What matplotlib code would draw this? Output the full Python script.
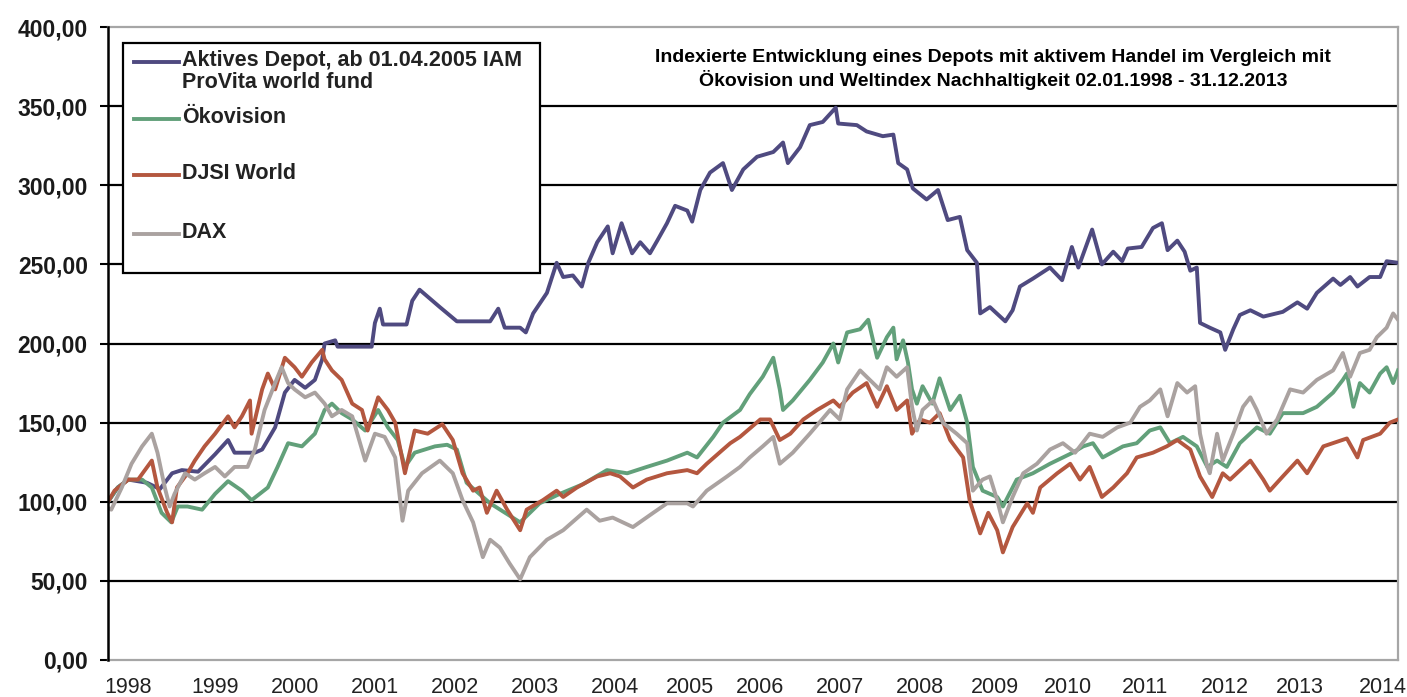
import matplotlib
matplotlib.use("Agg")
import matplotlib.pyplot as plt
from matplotlib.patches import Rectangle
from matplotlib.lines import Line2D

# ---------------- data (decimal years, index values) ----------------
depot_dates = [
    1998.10, 1998.22, 1998.35, 1998.58, 1998.74, 1998.89, 1999.01, 1999.21, 1999.42, 1999.58,
    1999.66, 1999.91, 2000.00, 2000.16, 2000.28, 2000.40, 2000.53, 2000.65, 2000.74, 2000.77,
    2000.90, 2000.93, 2001.35, 2001.39, 2001.45, 2001.49, 2001.78, 2001.85, 2001.94, 2002.19,
    2002.40, 2002.81, 2002.91, 2002.99, 2003.18, 2003.25, 2003.34, 2003.51, 2003.63, 2003.71,
    2003.83, 2003.94, 2004.02, 2004.13, 2004.26, 2004.32, 2004.43, 2004.56, 2004.66, 2004.78,
    2004.87, 2004.99, 2005.09, 2005.24, 2005.30, 2005.40, 2005.52, 2005.68, 2005.79, 2005.93,
    2006.10, 2006.30, 2006.42, 2006.48, 2006.63, 2006.75, 2006.91, 2007.07, 2007.10, 2007.33,
    2007.45, 2007.65, 2007.78, 2007.84, 2007.95, 2008.02, 2008.19, 2008.33, 2008.45, 2008.60,
    2008.69, 2008.81, 2008.85, 2008.97, 2009.16, 2009.25, 2009.34, 2009.50, 2009.71, 2009.86,
    2009.98, 2010.06, 2010.23, 2010.35, 2010.49, 2010.60, 2010.67, 2010.84, 2010.98, 2011.09,
    2011.16, 2011.28, 2011.37, 2011.44, 2011.52, 2011.56, 2011.68, 2011.81, 2011.87, 2011.97,
    2012.05, 2012.18, 2012.34, 2012.58, 2012.76, 2012.88, 2013.00, 2013.20, 2013.29, 2013.41,
    2013.50, 2013.65, 2013.78, 2013.86, 2014.00]
depot_values = [
    100, 109, 114, 112, 108, 118, 120, 119, 130, 139,
    131, 131, 133, 147, 169, 177, 172, 177, 190, 200,
    202, 198, 198, 213, 222, 212, 212, 227, 234, 223,
    214, 214, 222, 210, 210, 207, 219, 232, 251, 242,
    243, 236, 251, 264, 274, 257, 276, 257, 264, 257,
    265, 276, 287, 284, 277, 297, 308, 314, 297, 310,
    318, 321, 327, 314, 324, 338, 340, 349, 339, 338,
    334, 331, 332, 314, 310, 298, 291, 297, 278, 280,
    259, 251, 219, 223, 214, 221, 236, 241, 248, 240,
    261, 248, 272, 250, 258, 252, 260, 261, 273, 276,
    259, 265, 258, 246, 248, 213, 210, 207, 196, 209,
    218, 221, 217, 220, 226, 222, 232, 241, 237, 242,
    236, 242, 242, 252, 251]

oeko_dates = [
    1998.10, 1998.22, 1998.35, 1998.52, 1998.64, 1998.76, 1998.88, 1998.96, 1999.08, 1999.26,
    1999.42, 1999.58, 1999.75, 1999.87, 2000.07, 2000.19, 2000.32, 2000.49, 2000.65, 2000.77,
    2000.86, 2000.98, 2001.11, 2001.27, 2001.43, 2001.55, 2001.67, 2001.76, 2001.88, 2002.13,
    2002.28, 2002.40, 2002.52, 2002.81, 2003.18, 2003.42, 2003.67, 2003.95, 2004.25, 2004.50,
    2004.74, 2004.99, 2005.24, 2005.36, 2005.56, 2005.68, 2005.89, 2006.01, 2006.17, 2006.30,
    2006.38, 2006.42, 2006.54, 2006.75, 2006.91, 2007.04, 2007.10, 2007.21, 2007.37, 2007.47,
    2007.58, 2007.70, 2007.78, 2007.82, 2007.90, 2007.96, 2008.01, 2008.07, 2008.14, 2008.26,
    2008.35, 2008.48, 2008.60, 2008.69, 2008.76, 2008.88, 2009.06, 2009.13, 2009.30, 2009.50,
    2009.71, 2009.87, 2009.99, 2010.12, 2010.24, 2010.36, 2010.61, 2010.78, 2010.94, 2011.07,
    2011.19, 2011.35, 2011.52, 2011.65, 2011.77, 2011.89, 2012.05, 2012.26, 2012.42, 2012.58,
    2012.83, 2013.00, 2013.20, 2013.32, 2013.37, 2013.45, 2013.53, 2013.65, 2013.78, 2013.86,
    2013.94, 2014.00]
oeko_values = [
    100, 109, 114, 114, 109, 93, 87, 97, 97, 95,
    105, 113, 107, 101, 109, 122, 137, 135, 143, 158,
    162, 156, 152, 145, 158, 147, 139, 122, 131, 135,
    136, 133, 112, 99, 87, 99, 105, 111, 120, 118,
    122, 126, 131, 128, 141, 150, 158, 168, 179, 191,
    171, 158, 164, 177, 188, 200, 188, 207, 209, 215,
    191, 204, 210, 190, 202, 188, 171, 162, 173, 162,
    178, 158, 167, 150, 122, 107, 103, 97, 114, 118,
    124, 128, 131, 135, 137, 128, 135, 137, 145, 147,
    137, 141, 135, 122, 126, 122, 137, 147, 143, 156,
    156, 160, 169, 177, 181, 160, 175, 169, 181, 185,
    175, 183]

djsi_dates = [
    1998.10, 1998.18, 1998.35, 1998.47, 1998.64, 1998.71, 1998.83, 1998.89, 1998.95, 1999.08,
    1999.17, 1999.29, 1999.42, 1999.58, 1999.66, 1999.75, 1999.85, 1999.87, 2000.00, 2000.07,
    2000.16, 2000.28, 2000.40, 2000.49, 2000.61, 2000.74, 2000.77, 2000.86, 2000.98, 2001.11,
    2001.23, 2001.30, 2001.43, 2001.55, 2001.64, 2001.76, 2001.88, 2002.04, 2002.22, 2002.35,
    2002.47, 2002.60, 2002.68, 2002.77, 2002.89, 2003.02, 2003.18, 2003.26, 2003.46, 2003.63,
    2003.71, 2003.88, 2004.13, 2004.29, 2004.41, 2004.57, 2004.74, 2004.99, 2005.24, 2005.36,
    2005.48, 2005.68, 2005.77, 2005.89, 2006.14, 2006.26, 2006.38, 2006.51, 2006.67, 2006.84,
    2007.04, 2007.12, 2007.28, 2007.45, 2007.58, 2007.70, 2007.82, 2007.95, 2008.01, 2008.11,
    2008.23, 2008.35, 2008.48, 2008.64, 2008.72, 2008.85, 2008.95, 2009.06, 2009.13, 2009.25,
    2009.43, 2009.50, 2009.59, 2009.80, 2009.96, 2010.08, 2010.20, 2010.35, 2010.49, 2010.66,
    2010.78, 2010.98, 2011.15, 2011.28, 2011.44, 2011.56, 2011.71, 2011.84, 2011.93, 2012.18,
    2012.34, 2012.42, 2012.58, 2012.76, 2012.88, 2013.08, 2013.37, 2013.50, 2013.57, 2013.78,
    2013.90, 2014.00]
djsi_values = [
    100, 107, 114, 114, 126, 109, 93, 87, 109, 118,
    126, 135, 143, 154, 147, 154, 164, 143, 171, 181,
    171, 191, 185, 179, 188, 196, 190, 183, 177, 162,
    158, 145, 166, 158, 150, 118, 145, 143, 149, 139,
    118, 107, 109, 93, 107, 95, 82, 95, 101, 107,
    103, 109, 116, 118, 116, 109, 114, 118, 120, 118,
    124, 133, 137, 141, 152, 152, 139, 143, 152, 158,
    164, 160, 169, 175, 160, 173, 158, 164, 143, 152,
    150, 156, 139, 128, 101, 80, 93, 82, 68, 84,
    99, 93, 109, 118, 124, 114, 122, 103, 109, 118,
    128, 131, 135, 139, 133, 116, 103, 118, 114, 126,
    114, 107, 116, 126, 118, 135, 140, 128, 139, 143,
    150, 152]

dax_dates = [
    1998.10, 1998.14, 1998.27, 1998.39, 1998.52, 1998.64, 1998.71, 1998.80, 1998.86, 1998.92,
    1999.05, 1999.17, 1999.29, 1999.42, 1999.54, 1999.66, 1999.82, 1999.91, 2000.03, 2000.16,
    2000.24, 2000.32, 2000.40, 2000.53, 2000.65, 2000.77, 2000.86, 2000.98, 2001.11, 2001.27,
    2001.39, 2001.51, 2001.64, 2001.73, 2001.80, 2001.97, 2002.19, 2002.35, 2002.47, 2002.60,
    2002.72, 2002.81, 2002.93, 2003.05, 2003.18, 2003.30, 2003.51, 2003.71, 2004.00, 2004.16,
    2004.32, 2004.57, 2004.82, 2004.99, 2005.24, 2005.31, 2005.48, 2005.73, 2005.89, 2006.01,
    2006.17, 2006.30, 2006.38, 2006.54, 2006.75, 2007.00, 2007.12, 2007.21, 2007.37, 2007.49,
    2007.61, 2007.70, 2007.82, 2007.95, 2008.01, 2008.07, 2008.14, 2008.27, 2008.39, 2008.56,
    2008.69, 2008.76, 2008.88, 2008.97, 2009.06, 2009.13, 2009.25, 2009.38, 2009.55, 2009.71,
    2009.87, 2010.02, 2010.20, 2010.36, 2010.54, 2010.70, 2010.82, 2010.94, 2011.07, 2011.16,
    2011.28, 2011.40, 2011.50, 2011.56, 2011.65, 2011.68, 2011.77, 2011.84, 2011.97, 2012.09,
    2012.18, 2012.26, 2012.38, 2012.51, 2012.67, 2012.83, 2013.00, 2013.20, 2013.32, 2013.41,
    2013.53, 2013.65, 2013.74, 2013.86, 2013.94, 2014.00]
dax_values = [
    96, 95, 109, 124, 135, 143, 131, 109, 97, 105,
    118, 114, 118, 122, 116, 122, 122, 133, 158, 175,
    185, 175, 171, 166, 169, 162, 154, 158, 154, 126,
    143, 141, 128, 88, 107, 118, 126, 118, 101, 87,
    65, 76, 71, 61, 51, 65, 76, 82, 95, 88,
    90, 84, 93, 99, 99, 97, 107, 116, 122, 128,
    135, 141, 124, 131, 143, 158, 152, 171, 183, 177,
    171, 185, 179, 185, 160, 145, 158, 164, 150, 143,
    137, 107, 114, 116, 101, 87, 103, 118, 124, 133,
    137, 131, 143, 141, 147, 150, 160, 164, 171, 154,
    175, 169, 173, 143, 122, 118, 143, 126, 143, 160,
    166, 158, 143, 152, 171, 169, 177, 183, 194, 179,
    194, 196, 204, 210, 219, 215]

series_names = ["Aktives Depot, ab 01.04.2005 IAM\nProVita world fund",
                "Ökovision", "DJSI World", "DAX"]
series_colors = ["#4F4A80", "#62A07A", "#B4573F", "#AAA2A0"]

y_ticks = [0, 50, 100, 150, 200, 250, 300, 350, 400]
y_labels = ["0,00", "50,00", "100,00", "150,00", "200,00", "250,00",
            "300,00", "350,00", "400,00"]
year_labels = ["1998", "1999", "2000", "2001", "2002", "2003", "2004", "2005",
               "2006", "2007", "2008", "2009", "2010", "2011", "2012", "2013", "2014"]
year_label_pos = [1998.35, 1999.42, 2000.40, 2001.39, 2002.38, 2003.36, 2004.35,
                  2005.27, 2006.14, 2007.12, 2008.11, 2009.03, 2009.93, 2010.88,
                  2011.87, 2012.79, 2013.81]
title = ("Indexierte Entwicklung eines Depots mit aktivem Handel im Vergleich mit\n"
         "Ökovision und Weltindex Nachhaltigkeit 02.01.1998 - 31.12.2013")

# ---------------- figure ----------------
W, H = 1407, 697
fig = plt.figure(figsize=(W / 100, H / 100), dpi=100)
fig.patch.set_facecolor("white")
ax = fig.add_axes([108 / W, (H - 660) / H, 1290 / W, 633 / H])

narrow = ["Liberation Sans Narrow", "Liberation Sans", "DejaVu Sans"]
sans = ["Liberation Sans", "DejaVu Sans"]

all_series = [(depot_dates, depot_values), (oeko_dates, oeko_values),
              (djsi_dates, djsi_values), (dax_dates, dax_values)]
for i, ((d, v), c) in enumerate(zip(all_series, series_colors)):
    ax.plot(d, v, color=c, lw=2.8, zorder=3 + i, solid_joinstyle="round")

ax.set_xlim(1998.1, 2014.0)
ax.set_ylim(0, 400)

ax.set_yticks(y_ticks)
ax.set_yticklabels(y_labels, fontsize=16.5, fontweight="bold", family=sans,
                   color="#1a1a1a")
ax.tick_params(axis="y", direction="out", length=5.5, width=1.5, color="black", pad=9)

ax.set_xticks(year_label_pos)
ax.set_xticklabels(year_labels, fontsize=15.5, family=narrow, color="#222222")
ax.tick_params(axis="x", length=0, pad=12)

ax.yaxis.grid(True, color="black", lw=1.6)
ax.set_axisbelow(True)
gl = ax.yaxis.get_gridlines()
gl[0].set_visible(False)
gl[-1].set_visible(False)

for side in ["top", "bottom", "right"]:
    ax.spines[side].set_color("#A6A6A6")
    ax.spines[side].set_linewidth(1.6)
ax.spines["left"].set_color("black")
ax.spines["left"].set_linewidth(1.8)
ax.spines["left"].set_zorder(20)

# ---------------- legend (drawn manually to match the box layout) ----------------
def fx(px):
    return px / W

def fy(py):
    return 1 - py / H

box = Rectangle((fx(123), fy(273)), fx(540) - fx(123), fy(43) - fy(273),
                transform=fig.transFigure, facecolor="white", edgecolor="black",
                lw=1.6, zorder=30)
fig.add_artist(box)
entry_y = [62, 119, 175, 234]
for name, c, yy in zip(series_names, series_colors, entry_y):
    fig.add_artist(Line2D([fx(134), fx(179)], [fy(yy), fy(yy)], color=c, lw=2.8,
                          transform=fig.transFigure, zorder=31))
    fig.text(fx(182), fy(yy - 12), name, ha="left", va="top", fontsize=15.5,
             fontweight="bold", family=sans, color="#222222", linespacing=1.05,
             zorder=32)

fig.text(fx(993), fy(69), title, ha="center", va="center", fontsize=14,
         fontweight="bold", family=narrow, color="black", linespacing=1.25)

fig.savefig("out.png", dpi=100, facecolor="white")
